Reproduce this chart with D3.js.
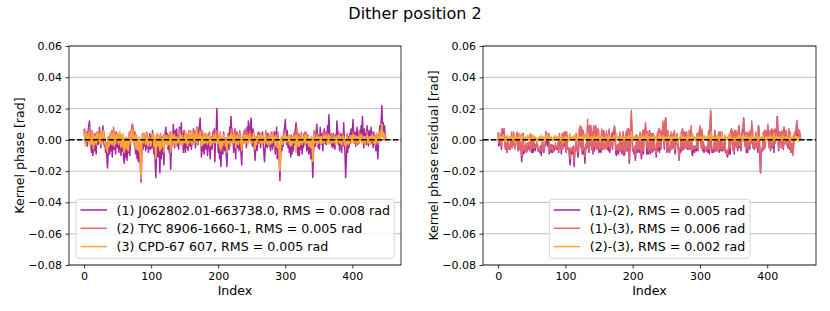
<!DOCTYPE html>
<html>
<head>
<meta charset="utf-8">
<script src="https://cdn.jsdelivr.net/npm/d3@7"></script>
<style>
body { margin: 0; background: #fff; }
text { font-family: "DejaVu Sans", sans-serif; fill: #000; }
</style>
</head>
<body>
<svg id="chart" width="830" height="311"></svg>
<script>
// kernel phases, in mrad (x0.001 rad), one value per index 0..450
var star1_mrad = [
  7, 3, -2, 5, 1, -4, 6, 9, 12, 4,
  -3, -8, 2, -10, -5, 3, -7, -2, -9, 1,
  4, -3, 2, 8, 0, -5, 3, -1, 9, 2,
  -4, 1, -8, -2, -12, -18, -6, 0, -9, -3,
  -7, 2, -11, -4, 3, -6, -1, -9, 5, -2,
  -5, 1, -8, 4, -3, -10, 0, -7, 2, -12,
  -15, -6, -11, -3, -13, -5, -8, -1, -10, -4,
  3, 7, 10, 4, -2, 5, -4, -9, -2, -12,
  -6, -14, -3, -10, -18, -27, -9, -2, -6, 1,
  -4, 2, -7, 3, -5, 0, -8, -3, 4, -6,
  2, -5, 6, -2, -9, -3, -14, -24, -8, -1,
  -11, -4, -7, -21, -3, -12, 2, -9, -5, -16,
  1, 5, 8, -2, 4, -6, 3, -8, -1, -19,
  -7, 2, -3, 10, 1, -5, 6, -2, 7, -4,
  3, -6, 8, 0, 5, 11, -3, 4, -8, 6,
  -2, -8, 1, -5, 3, -7, 0, 4, -4, 2,
  -6, 3, -3, 7, -1, 5, -5, 2, 8, 1,
  -3, 6, 9, 14, 2, -11, -4, -7, 1, -9,
  -2, 3, -6, 1, -10, -3, 4, -5, -12, -1,
  2, -6, 5, -2, 7, -14, 1, 6, 20, 3,
  -8, -3, -12, 0, -17, -6, -2, -9, 5, -4,
  -7, 1, -10, -17, -3, 4, -6, 8, 2, 15,
  6, -2, 3, -8, -1, 7, -12, 2, 5, -5,
  1, -7, 4, -3, -9, -16, -4, 3, -2, 6,
  -1, 4, -5, 8, 2, 12, 6, 0, 9, 14,
  3, -4, 7, -1, -6, -13, -3, 2, -7, 1,
  5, -2, 4, -5, 1, -3, 5, -1, -8, -14,
  -6, -2, 3, -5, 4, -1, -4, 2, -7, 0,
  3, -6, 1, -4, 5, -9, -2, 8, -12, -5,
  -8, -14, -26, -10, -3, -7, 1, -4, 5, 8,
  13, 2, -3, 6, -5, 1, -8, -2, -11, -4,
  -9, -2, -7, 4, -3, 6, 11, 2, -6, -10,
  -4, -10, 3, -6, -2, -9, 1, -5, 4, -3,
  2, -1, -7, 3, -4, -9, -6, 0, -12, -5,
  -10, -24, -8, -3, 2, -4, 5, 10, 1, -5,
  3, -6, 8, 0, -3, 4, -7, 2, 7, -2,
  5, -3, 1, 9, 4, 16, 6, -2, 3, -4,
  2, -5, 4, -1, -6, 3, 0, 12, 5, -3,
  1, -7, -2, 4, -8, 3, -4, 11, 2, -9,
  -24, -12, -3, -8, 2, -5, 4, -2, 7, 1,
  6, 13, 3, -2, 5, -4, 2, 8, -3, 4,
  -2, 6, 1, 9, 4, 15, 3, -5, 7, 0,
  4, -3, 9, 2, -4, 6, -1, 3, 8, -2,
  1, -5, 5, -3, 2, -7, -1, -4, -12, -2,
  4, 9, 2, 12, 22, 6, 11, 3, 9, 1, 2
];
var star3_mrad = [
  2, 5, -4, 1, 4, 0, -1, 3, 5, -3,
  1, -3, 4, -2, -6, 3, -1, 2, -3, 4,
  -1, 2, 4, 3, -3, 1, 5, -2, 4, 6,
  2, -3, -2, -5, -6, -8, 1, -4, -2, 3,
  -2, 4, -3, 2, 5, -4, 3, -2, 1, 4,
  1, -2, -3, 5, 2, -5, 3, -4, 4, -6,
  -8, -1, -4, 2, -6, 0, -7, 3, -3, 1,
  5, 2, 7, 4, -3, 1, 3, -5, 2, -6,
  -3, -7, 2, -5, -13, -25, -4, 3, -2, 4,
  3, -2, -3, 4, 1, -4, -2, 2, -1, -4,
  -3, 2, 1, 4, -4, 3, -6, -12, -1, 4,
  -4, 2, -3, -7, 3, -5, -2, -4, 2, -8,
  3, -2, -1, 3, -4, 1, -3, -2, 4, -8,
  -2, 4, 2, -3, 3, 1, -3, 2, -2, 1,
  -2, 1, -1, 4, -3, 2, 3, -3, -2, -1,
  3, -2, 4, 1, -4, -1, 4, -2, 2, 5,
  -1, -3, 2, 4, 3, -2, 1, 4, 7, -2,
  2, 1, 3, 5, -2, -4, 2, -3, 4, -2,
  3, -2, 1, 4, -3, 2, -1, 3, -4, 2,
  -3, 1, -2, 3, 1, -2, 4, -1, 1, -2,
  -2, 3, -5, 4, -7, 1, -4, -3, 3, 2,
  -1, -4, -3, -8, 2, -2, 1, 2, -3, 4,
  1, 3, -2, -1, 4, 2, -5, -2, 3, 1,
  -3, -1, 3, 2, -3, -7, 1, -2, 3, -1,
  3, -2, 1, 3, -3, 0, 2, 4, -2, 1,
  -2, 2, 1, 4, -2, -6, 2, -3, -1, 3,
  1, 3, -2, 1, 4, -4, 1, 3, -2, -1,
  -1, 3, -2, 1, -3, 2, 1, -3, -2, 3,
  -2, -1, 3, 2, -1, -4, 3, -1, -5, 1,
  -3, -10, -20, -5, 2, -2, -3, 2, 1, 3,
  4, -2, 2, -1, 1, 3, -3, 2, -4, 1,
  -3, 2, -1, -2, 3, -1, -8, 3, 1, -4,
  2, -4, -2, 1, 3, -3, -2, 2, -1, 3,
  -3, 3, -1, -2, 2, -4, 1, -3, -5, 2,
  -2, -14, -2, 3, -2, 1, -1, 3, -3, 2,
  -2, 1, 2, -3, 2, -2, -1, 3, -2, 2,
  1, 3, -2, 2, -3, 3, 1, 2, -2, 1,
  -2, 1, -1, 3, -2, -3, 2, 0, -2, 2,
  3, -2, 2, -1, -3, 2, 1, 2, -3, -2,
  -4, -3, 2, -2, -3, 1, -2, 3, 1, -2,
  2, 3, -2, 3, -1, 2, -3, 2, 1, -2,
  2, -1, 3, 2, -2, 1, -2, 1, 2, -3,
  -1, 2, 3, -2, 1, -2, 2, -3, 2, 1,
  3, -1, -2, 2, -3, 1, 3, -2, -2, 2,
  1, 4, -1, 5, 10, 2, 4, 1, 3, 0, 1
];
var res23_mrad = [
  1, 2, 4, 1, -1, 2, 0, 1, 3, 0,
  -1, 1, 2, 0, 3, 1, -1, 2, 0, 1,
  2, 0, 1, 3, 1, -2, 0, 2, 1, 0,
  1, 3, 0, 2, -1, 4, 1, 0, 2, 1,
  -1, 2, 0, 1, 3, 0, 2, -1, 1, 0,
  2, 1, 3, 0, -1, 2, 0, 1, -2, 1,
  0, 2, 1, -1, 3, 1, 0, 2, 1, -1,
  1, 0, 3, 4, 1, 0, 2, -1, 1, 2,
  0, 1, -1, 2, 1, 3, 0, 1, 2, -1,
  1, 2, 0, 1, 3, 1, -2, 0, 1, 2,
  0, 1, 2, 0, 1, -1, 3, 4, 1, 0,
  2, 1, 0, 3, 1, -1, 2, 0, 1, 3,
  1, 0, 2, -1, 1, 2, 0, 3, 1, 4,
  2, 1, 0, 4, 1, 2, 0, -1, 2, 1,
  0, 2, 1, 3, 0, 1, -1, 2, 0, 1,
  3, 1, 0, 2, 1, 0, 2, 1, -2, 1,
  0, 2, 1, 0, 3, 1, 2, 0, 1, -1,
  1, 0, 2, 1, 3, 2, 4, 1, 0, 2,
  1, 2, 0, -1, 2, 1, 0, 2, 1, 0,
  2, 0, 1, 2, -1, 3, 1, 0, 5, 2,
  1, 0, 2, 1, 3, 0, -1, 2, 1, 0,
  2, 1, 0, 3, 1, 0, 2, 1, -1, 3,
  1, 4, 0, 2, 1, -1, 2, 0, 1, 2,
  0, 1, 3, 1, 0, 2, -1, 1, 2, 0,
  4, 1, 0, 2, 1, 3, 0, 2, 1, -1,
  1, 2, 0, 1, 3, 1, -1, 2, 0, 1,
  2, 0, 1, 3, 0, 1, 2, -2, 1, 0,
  1, 3, 4, 1, 0, 2, 1, 0, -1, 2,
  0, 1, 2, 0, 3, 1, -1, 2, 1, 4,
  1, 0, 2, 1, -1, 2, 0, 1, 3, 0,
  2, 1, 0, 2, 1, -1, 3, 1, 0, 2,
  1, 0, 2, 1, 3, 0, 2, 5, 1, 0,
  2, 1, -1, 0, 2, 1, 3, 0, 1, 2,
  0, 2, 1, 3, 1, 0, -1, 2, 1, 0,
  2, 1, 0, 3, 1, 4, 2, 0, 1, -1,
  1, 2, 0, 1, -1, 2, 1, 3, 0, 1,
  4, 1, 0, 2, 1, -1, 2, 0, 1, 3,
  0, 2, 1, -1, 2, 1, 0, 3, 1, 0,
  2, 1, 0, 2, -1, 1, 3, 0, 1, 2,
  1, 0, 2, 1, 3, 0, 1, -1, 2, 1,
  0, 2, 1, 0, 3, 1, 2, -1, 1, 0,
  4, 1, 0, 2, 1, -1, 2, 1, 0, 2,
  1, 0, 2, 3, 1, 0, -1, 2, 1, 0,
  2, 1, 0, 1, 3, 0, 1, 2, -1, 1,
  0, 2, 3, 1, 0, 2, 1, -1, 1, 0, 1
];

var yTicks = [-0.08, -0.06, -0.04, -0.02, 0.00, 0.02, 0.04, 0.06];
var xTicks = [0, 100, 200, 300, 400];
var leftLabels = ['(1) J062802.01-663738.0, RMS = 0.008 rad',
                  '(2) TYC 8906-1660-1, RMS = 0.005 rad',
                  '(3) CPD-67 607, RMS = 0.005 rad'];
var rightLabels = ['(1)-(2), RMS = 0.005 rad',
                   '(1)-(3), RMS = 0.006 rad',
                   '(2)-(3), RMS = 0.002 rad'];
var colors = ['#a4279f', '#e2666a', '#fca636'];

// series in rad
var s1 = star1_mrad.map(function(d){ return d / 1000; });
var s3 = star3_mrad.map(function(d){ return d / 1000; });
var s2 = s3.map(function(d, i){ return d + res23_mrad[i] / 1000; });
var r12 = s1.map(function(d, i){ return d - s2[i]; });
var r13 = s1.map(function(d, i){ return d - s3[i]; });
var r23 = s2.map(function(d, i){ return d - s3[i]; });

var svg = d3.select('#chart');

svg.append('text')
  .attr('x', 415).attr('y', 18.5)
  .attr('text-anchor', 'middle')
  .style('font-size', '16px')
  .text('Dither position 2');

function panel(x0, x1, ylabel, ylabelX, series, labels, legend){
  var top = 46, bottom = 265;
  var x = d3.scaleLinear().domain([-22.5, 472.5]).range([x0, x1]);
  var y = d3.scaleLinear().domain([-0.08, 0.06]).range([bottom, top]);
  var g = svg.append('g');

  // grid
  g.selectAll('line.grid').data(yTicks).enter().append('line')
    .attr('class', 'grid')
    .attr('x1', x0).attr('x2', x1)
    .attr('y1', function(d){ return y(d); })
    .attr('y2', function(d){ return y(d); })
    .style('stroke', '#b0b0b0')
    .style('stroke-width', 0.8);

  var line = d3.line()
    .x(function(d, i){ return x(i); })
    .y(function(d){ return y(d); });

  series.forEach(function(s, k){
    g.append('path')
      .datum(s)
      .attr('d', line)
      .style('fill', 'none')
      .style('stroke', colors[k])
      .style('stroke-width', 1.5)
      .style('stroke-linejoin', 'round');
  });

  // zero line
  g.append('line')
    .attr('x1', x0).attr('x2', x1)
    .attr('y1', y(0)).attr('y2', y(0))
    .style('stroke', '#000')
    .style('stroke-width', 1.5)
    .style('stroke-dasharray', '5.5,2.4');

  var ya = g.append('g')
    .attr('transform', 'translate(' + x0 + ',0)')
    .call(d3.axisLeft(y).tickValues(yTicks).tickFormat(d3.format('.2f')).tickSize(3.5).tickPadding(3.5));
  var xa = g.append('g')
    .attr('transform', 'translate(0,' + bottom + ')')
    .call(d3.axisBottom(x).tickValues(xTicks).tickFormat(d3.format('d')).tickSize(3.5).tickPadding(3.5));
  [ya, xa].forEach(function(a){
    a.select('.domain').remove();
    a.selectAll('text').style('font-size', '11px').style('font-family', '"DejaVu Sans", sans-serif');
    a.selectAll('line').style('stroke-width', 0.8);
  });

  g.append('rect')
    .attr('x', x0).attr('y', top)
    .attr('width', x1 - x0).attr('height', bottom - top)
    .style('fill', 'none')
    .style('stroke', '#000')
    .style('stroke-width', 0.8);

  g.append('text')
    .attr('x', (x0 + x1) / 2).attr('y', 295)
    .attr('text-anchor', 'middle')
    .style('font-size', '12.6px')
    .text('Index');

  g.append('text')
    .attr('transform', 'translate(' + ylabelX + ',' + ((top + bottom) / 2) + ') rotate(-90)')
    .attr('text-anchor', 'middle')
    .style('font-size', '12.6px')
    .text(ylabel);

  // legend
  var lg = g.append('g');
  lg.append('rect')
    .attr('x', legend.x).attr('y', 199.3)
    .attr('width', legend.w).attr('height', 59)
    .attr('rx', 3)
    .style('fill', '#fff').style('fill-opacity', 0.8)
    .style('stroke', '#cccccc').style('stroke-width', 0.8);
  labels.forEach(function(t, k){
    var ry = 210 + k * 18.3;
    lg.append('line')
      .attr('x1', legend.x + 4.5).attr('x2', legend.x + 31)
      .attr('y1', ry).attr('y2', ry)
      .style('stroke', colors[k]).style('stroke-width', 1.5);
    lg.append('text')
      .attr('x', legend.x + 40.5).attr('y', ry + 4.5)
      .style('font-size', '12.6px')
      .text(t);
  });
}

panel(69, 401, 'Kernel phase [rad]', 24, [s1, s2, s3], leftLabels, {x: 76, w: 318.3});
panel(483, 816, 'Kernel phase residual [rad]', 438, [r12, r13, r23], rightLabels, {x: 549.3, w: 200.7});
</script>
</body>
</html>
